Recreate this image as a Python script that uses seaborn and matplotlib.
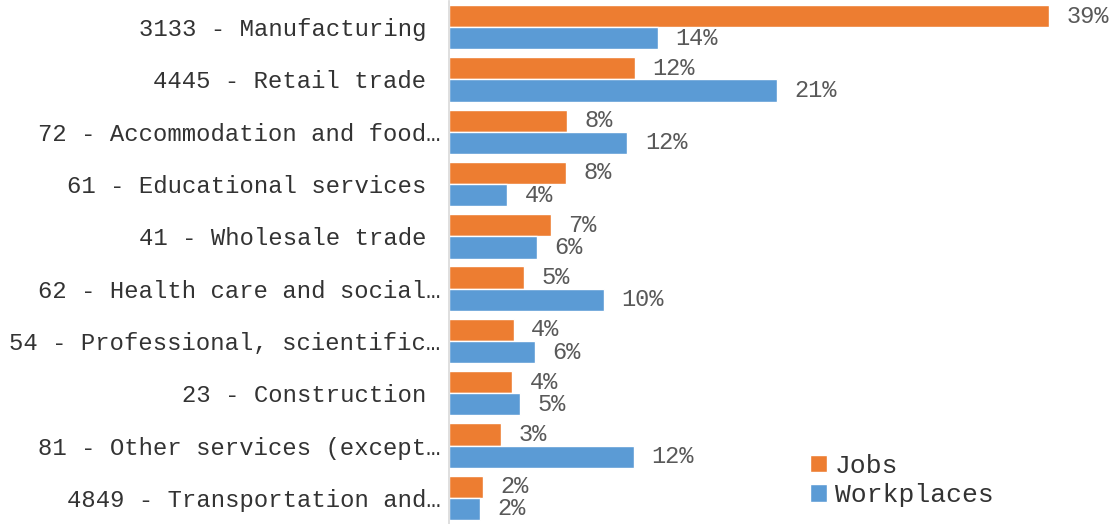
import pandas as pd
import matplotlib
matplotlib.use("Agg")
import matplotlib.pyplot as plt
import seaborn as sns

# Data
industries = [
    "3133 - Manufacturing ",
    "4445 - Retail trade ",
    "72 - Accommodation and food\u2026",
    "61 - Educational services ",
    "41 - Wholesale trade ",
    "62 - Health care and social\u2026",
    "54 - Professional, scientific\u2026",
    "23 - Construction ",
    "81 - Other services (except\u2026",
    "4849 - Transportation and\u2026",
]
jobs = [39.0, 12.1, 7.7, 7.6, 6.6, 4.9, 4.2, 4.1, 3.4, 2.2]
workplaces = [13.6, 21.3, 11.6, 3.8, 5.7, 10.1, 5.6, 4.6, 12.0, 2.0]
series = ["Jobs", "Workplaces"]
colors = ["#ED7D31", "#5B9BD5"]

df = pd.DataFrame({
    "industry": industries * 2,
    "series": [series[0]] * len(industries) + [series[1]] * len(industries),
    "share": jobs + workplaces,
})

sns.set_style("white")
plt.rcParams["font.family"] = ["Liberation Mono", "DejaVu Sans Mono"]

fig = plt.figure(figsize=(11.14, 5.24), dpi=100)
ax = fig.add_axes([449 / 1114, 0.0, 665 / 1114, 523 / 524])

sns.barplot(data=df, y="industry", x="share", hue="series", orient="h",
            palette=colors, width=0.85, ax=ax, saturation=1, legend=True)

# percentage labels at the bar ends
for cont in ax.containers:
    ax.bar_label(cont, labels=[f"{v:.0f}%" for v in cont.datavalues],
                 padding=12.5, color="#595959", fontsize=17)

ax.set_xlim(0, 39.0 * 665 / 600)
ax.set_ylim(len(industries) - 0.5, -0.5)
ax.set_xlabel("")
ax.set_ylabel("")
ax.set_xticks([])
ax.tick_params(axis="y", length=0, labelsize=17.2, labelcolor="#333333", pad=6)
ax.set_yticks([i - 0.5 for i in range(len(industries) + 1)], minor=True)
ax.tick_params(axis="y", which="minor", length=5, color="#D9D9D9", width=1.2)
for s in ["top", "right", "bottom"]:
    ax.spines[s].set_visible(False)
ax.spines["left"].set_color("#D9D9D9")
ax.spines["left"].set_linewidth(1.2)

handles, labels = ax.get_legend_handles_labels()
ax.get_legend().remove()
fig.legend(handles, labels, loc="upper left", bbox_to_anchor=(786 / 1114, 1 - 430 / 524),
           frameon=False, fontsize=19, handlelength=0.65, handleheight=0.65,
           handletextpad=0.3, labelspacing=0.2, labelcolor="#333333")

fig.savefig("out.png", dpi=100)
